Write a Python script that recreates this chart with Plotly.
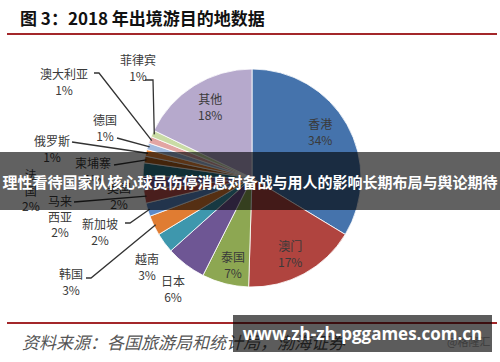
import math
import plotly.graph_objects as go

# ---- data ----
labels = ["香港", "澳门", "泰国", "日本", "越南", "韩国", "新加坡", "马来西亚",
          "美国", "法国", "柬埔寨", "俄罗斯", "德国", "澳大利亚", "菲律宾", "其他"]
values = [34, 17, 7, 6, 3, 3, 2, 2, 2, 2, 1, 1, 1, 1, 1, 18]
colors = ["#4573AC", "#B0443F", "#8DA752", "#6E5694", "#3E97AD", "#E07C32",
          "#5B8AC9", "#C0504D", "#7A5E9E", "#2C7A8C", "#B0601E", "#F08A3A",
          "#A3BBDF", "#E2A5A3", "#C9DBA5", "#B6A9CC"]

title_text = "图 3：2018 年出境游目的地数据"
source_text = "资料来源：各国旅游局和统计局，渤海证券"
band_text = "理性看待国家队核心球员伤停消息对备战与用人的影响长期布局与舆论期待"
watermark = "www.zh-zh-pggames.com.cn"

# ---- layout helpers ----
W, H = 500, 362
CX, CY, R = 252, 178, 109


def X(x):
    return x / W


def Y(y):
    return 1 - y / H


wrap = {"马来西亚": "马来<br>西亚", "法国": "法<br>国"}
label_pos = {
    "香港": (320, 131), "其他": (210, 107), "澳门": (290, 253), "泰国": (233, 264),
    "日本": (173, 288), "越南": (147, 266), "韩国": (71, 281), "新加坡": (100, 231),
    "马来西亚": (60, 216), "法国": (31, 190), "美国": (119, 195), "柬埔寨": (93, 171),
    "俄罗斯": (52, 148), "德国": (105, 127), "澳大利亚": (64, 81), "菲律宾": (138, 68),
}
leader_start = {
    "菲律宾": [(145, 80), (153, 80)],
    "澳大利亚": [(94, 73), (99, 73)],
    "德国": [(117, 138)],
    "俄罗斯": [(72, 142)],
    "柬埔寨": [(114, 165)],
    "马来西亚": [(74, 202)],
    "新加坡": [(125, 223), (130, 223)],
    "韩国": [(86, 278), (91, 278)],
}

fig = go.Figure(go.Pie(
    labels=labels, values=values, sort=False, direction="clockwise", rotation=0,
    marker=dict(colors=colors, line=dict(color="white", width=0.8)),
    textinfo="none", hoverinfo="label+percent", showlegend=False,
    domain=dict(x=[X(CX - R), X(CX + R)], y=[Y(CY + R), Y(CY - R)]),
))

total = sum(values)
cum = 0
shapes = []
annotations = []
for lab, v in zip(labels, values):
    mid = (cum + v / 2) / total * 2 * math.pi
    cum += v
    ex = CX + (R - 2) * math.sin(mid)
    ey = CY - (R - 2) * math.cos(mid)
    if lab in leader_start:
        pts = leader_start[lab] + [(ex, ey)]
        path = "M " + " L ".join(f"{X(px):.5f},{Y(py):.5f}" for px, py in pts)
        shapes.append(dict(type="path", xref="paper", yref="paper", path=path,
                           line=dict(color="#333333", width=1.3)))
    px, py = label_pos[lab]
    annotations.append(dict(
        x=X(px), y=Y(py), xref="paper", yref="paper", showarrow=False,
        text=f"{wrap.get(lab, lab)}<br>{v}%", align="center",
        font=dict(family="Noto Sans CJK SC", size=12, color="#3A3A3A"),
        xanchor="center", yanchor="middle"))

# title, rules
annotations.append(dict(x=X(18), y=Y(18), xref="paper", yref="paper", showarrow=False,
                        text=f"<b>{title_text}</b>", xanchor="left", yanchor="middle",
                        font=dict(family="Noto Sans CJK SC", size=17, color="#111111")))
shapes.append(dict(type="line", xref="paper", yref="paper", x0=X(7), x1=X(497),
                   y0=Y(34), y1=Y(34), line=dict(color="#A3272A", width=2)))
shapes.append(dict(type="line", xref="paper", yref="paper", x0=X(7), x1=X(497),
                   y0=Y(323), y1=Y(323), line=dict(color="#A3272A", width=2)))
annotations.append(dict(x=X(20), y=Y(341), xref="paper", yref="paper", showarrow=False,
                        text=f"<i>{source_text}</i>", xanchor="left", yanchor="middle",
                        font=dict(family="Noto Sans CJK SC", size=17, color="#555555")))
annotations.append(dict(x=X(492), y=Y(341), xref="paper", yref="paper", showarrow=False,
                        text="@格隆汇", xanchor="right", yanchor="middle",
                        font=dict(family="Noto Sans CJK SC", size=11, color="#AAAAAA")))

# overlay band
annotations.append(dict(x=0.5, y=Y(181), xref="paper", yref="paper", showarrow=False,
                        text=f"<b>{band_text}</b>", width=W, height=58,
                        bgcolor="rgba(0,0,0,0.62)", borderpad=0, borderwidth=0,
                        xanchor="center", yanchor="middle", align="center",
                        font=dict(family="Noto Sans CJK SC", size=15, color="white")))
# watermark box
annotations.append(dict(x=X(362.5), y=Y(333.5), xref="paper", yref="paper", showarrow=False,
                        text=f"<b>{watermark}</b>", width=259, height=37,
                        bgcolor="rgba(0,0,0,0.64)", borderpad=0, borderwidth=0,
                        xanchor="center", yanchor="middle", align="center",
                        font=dict(family="Open Sans", size=17, color="white")))

fig.update_layout(width=W, height=H, margin=dict(l=0, r=0, t=0, b=0),
                  paper_bgcolor="white", plot_bgcolor="white",
                  shapes=shapes, annotations=annotations)
fig.write_html("out.html")
